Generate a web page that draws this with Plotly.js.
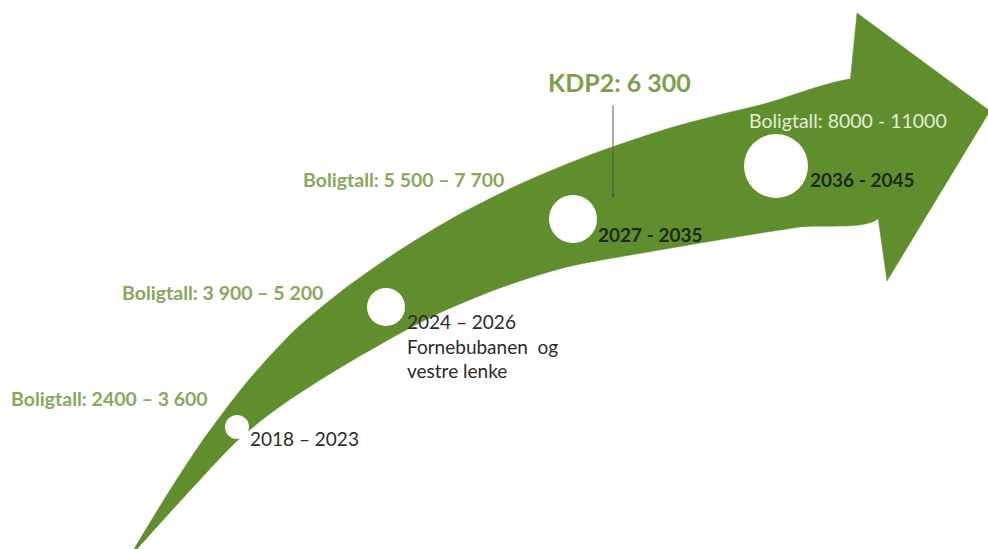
<!DOCTYPE html>
<html>
<head>
<meta charset="utf-8">
<script src="https://cdn.plot.ly/plotly-3.0.1.min.js"></script>
<style>html,body{margin:0;padding:0;background:#fff;}#chart{width:988px;height:549px;}</style>
</head>
<body>
<div id="chart"></div>
<script>
// Arrow shaft outline (upper edge from tail to head, then lower edge back to tail)
var shaftUpperX = [134, 170, 203, 247, 295, 343, 400, 460, 520, 590, 670, 760, 875];
var shaftUpperY = [549, 490, 440, 382, 330, 290, 250, 214, 184, 155, 128, 105, 81];
var shaftLowerX = [880, 800, 730, 660, 567, 500, 433, 367, 320, 275, 237, 185, 137];
var shaftLowerY = [217, 227, 238, 250, 267, 288, 316, 352, 380, 410, 441, 496, 549];
// Arrow head outline
var headX = [850, 857, 990, 887, 878, 850];
var headY = [83, 13, 111, 281, 217, 221];

// Milestones (white circles)
var periods = ["2018 – 2023", "2024 – 2026<br>Fornebubanen  og<br>vestre lenke", "2027 - 2035", "2036 - 2045"];
var circleX = [237, 386, 573, 776];
var circleY = [427, 307, 219, 166];
var circleSize = [24, 38, 48, 64];

// Housing-number labels
var boligLabels = ["Boligtall: 2400 – 3 600", "Boligtall: 3 900 – 5 200", "Boligtall: 5 500 – 7 700", "Boligtall: 8000 - 11000"];
var boligX = [9, 120, 301, 747];
var boligY = [398, 292, 179, 120];
var periodX = [248, 405, 596, 808];
var periodY = [438, 320, 234, 179];

var kdpLabel = "KDP2: 6 300";

var GREEN = "#618e2d";
var FONT = "Lato, 'Open Sans', sans-serif";
var traces = [
  {x: shaftUpperX.concat(shaftLowerX), y: shaftUpperY.concat(shaftLowerY), type: "scatter", mode: "lines",
   fill: "toself", fillcolor: GREEN, line: {color: GREEN, width: 0.5, shape: "spline", smoothing: 0.8}, hoverinfo: "skip"},
  {x: headX, y: headY, type: "scatter", mode: "lines", fill: "toself", fillcolor: GREEN,
   line: {color: GREEN, width: 0.5}, hoverinfo: "skip"},
  {x: circleX, y: circleY, type: "scatter", mode: "markers",
   marker: {color: "#ffffff", opacity: 1, size: circleSize, line: {width: 0}}, hoverinfo: "skip"}
];

var annotations = [];
for (var i = 0; i < boligLabels.length; i++) {
  var last = i === boligLabels.length - 1;
  annotations.push({x: boligX[i], y: boligY[i], xref: "x", yref: "y", text: last ? boligLabels[i] : "<b>" + boligLabels[i] + "</b>",
    showarrow: false, xanchor: "left", yanchor: "middle",
    font: {family: FONT, size: 19.5, color: last ? "#e2ecd6" : "#89a85c"}});
}
for (var j = 0; j < periods.length; j++) {
  var bold = (j >= 2);
  annotations.push({x: periodX[j], y: periodY[j], xref: "x", yref: "y", text: bold ? "<b>" + periods[j] + "</b>" : periods[j],
    showarrow: false, xanchor: "left", yanchor: j === 1 ? "top" : "middle", align: "left",
    yshift: j === 1 ? 12 : 0,
    font: {family: FONT, size: 19, color: bold ? "#1c2a12" : "#2b2b2b"}});
}
annotations.push({x: 546, y: 82, xref: "x", yref: "y", text: "<b>" + kdpLabel + "</b>", showarrow: false,
  xanchor: "left", yanchor: "middle", font: {family: FONT, size: 25, color: "#7ba04c"}});
annotations.push({x: 613, y: 198, ax: 613, ay: 104, xref: "x", yref: "y", axref: "x", ayref: "y", text: "",
  showarrow: true, arrowhead: 2, arrowsize: 0.8, arrowwidth: 1, arrowcolor: "#555555"});

var layout = {
  width: 988, height: 549, margin: {l: 0, r: 0, t: 0, b: 0},
  paper_bgcolor: "#ffffff", plot_bgcolor: "#ffffff", showlegend: false,
  xaxis: {range: [0, 988], visible: false, fixedrange: true},
  yaxis: {range: [549, 0], visible: false, fixedrange: true},
  annotations: annotations
};
Plotly.newPlot("chart", traces, layout, {displayModeBar: false, staticPlot: true});
</script>
</body>
</html>
